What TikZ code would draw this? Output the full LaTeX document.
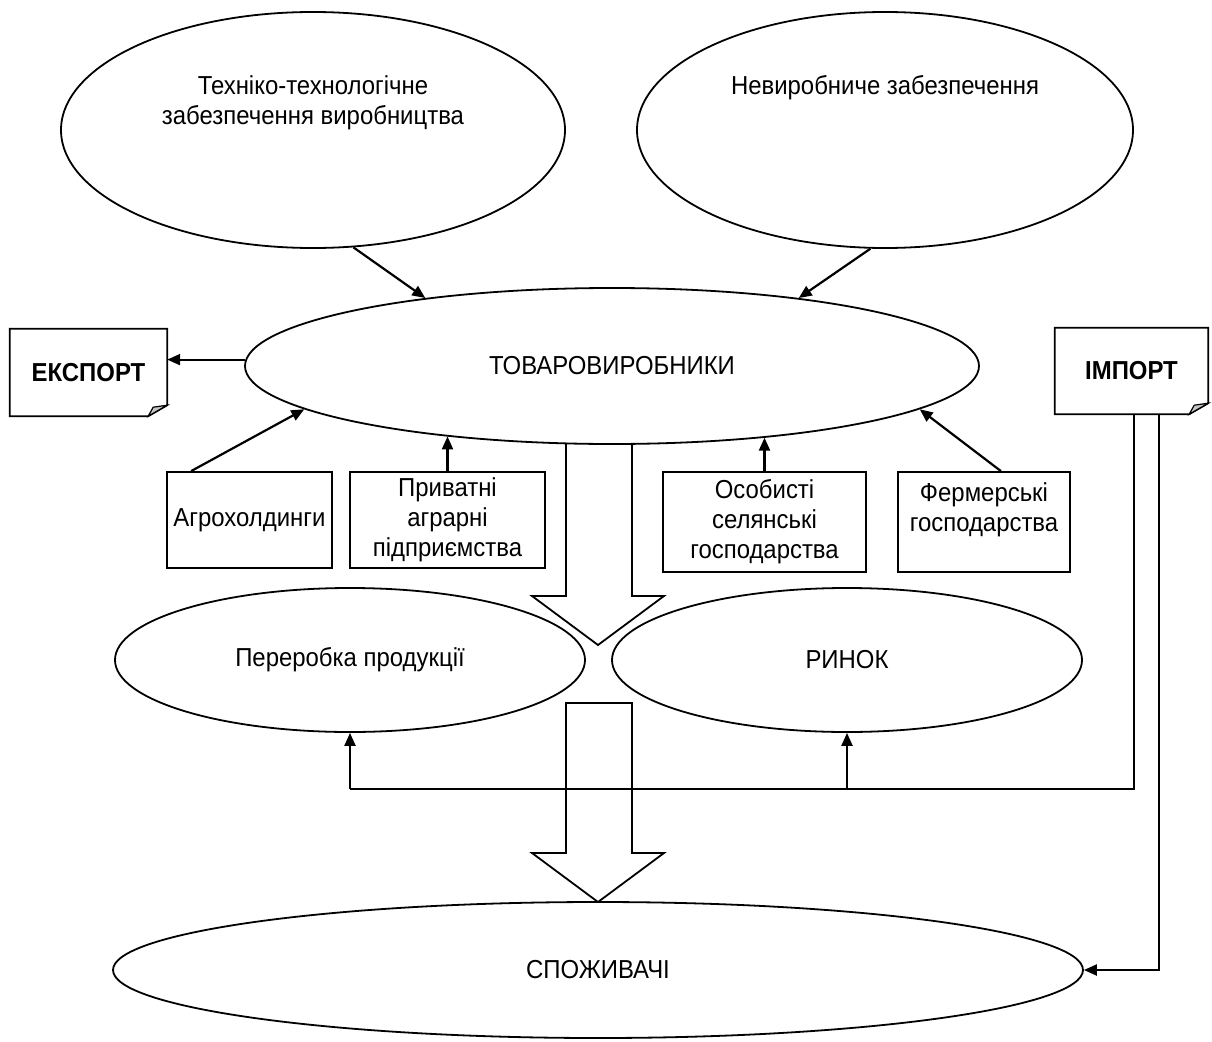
\documentclass[tikz,border=0pt]{standalone}
\usepackage{fontspec}
\setmainfont{Liberation Sans}[FakeStretch=0.92]
\usetikzlibrary{shapes.geometric,arrows.meta}

\tikzset{
	ell/.style={ellipse, draw, line width=1.8pt, fill=white, inner sep=0pt},
	unit/.style={rectangle, draw, line width=1.8pt, fill=white, align=center, inner sep=0pt},
	doc/.style={rectangle, inner sep=0pt, font=\fontsize{26}{30}\selectfont\bfseries},
	conn/.style={line width=2.2pt, -{Triangle[length=13pt,width=11pt]}},
	hollow/.style={draw, line width=1.8pt, fill=white, line join=miter},
}

% sheet with a folded lower right corner
\newcommand{\foldedbox}[1]{%
	\draw[line width=1.8pt] (#1.north west) -- (#1.north east) -- ([yshift=11pt]#1.south east)
		-- ([xshift=-19pt]#1.south east) -- (#1.south west) -- cycle;
	\filldraw[line width=1.2pt, fill=gray!45] ([yshift=11pt]#1.south east) -- ([xshift=-19pt]#1.south east)
		-- ([xshift=-14pt,yshift=9pt]#1.south east) -- cycle;}

\begin{document}
\begin{tikzpicture}[x=1pt, y=-1pt, font=\fontsize{26}{30}\selectfont]
	\useasboundingbox (0,0) rectangle (1212,1041);

	% big hollow arrows
	\foreach \ytop/\ytip in {440/645, 703/902}
		\draw[hollow] (566,\ytop) -- (566,{\ytip-49}) -- (532,{\ytip-49}) -- (598,\ytip)
			-- (664,{\ytip-49}) -- (632,{\ytip-49}) -- (632,\ytop) -- cycle;

	\node[ell, minimum width=504pt, minimum height=236pt,
		label={[yshift=27pt, align=center]center:{Техніко-технологічне\\забезпечення виробництва}}] (tech) at (313,130) {};
	\node[ell, minimum width=496pt, minimum height=236pt,
		label={[yshift=42pt]center:Невиробниче забезпечення}] (serv) at (885,130) {};
	\node[ell, minimum width=734pt, minimum height=156pt] (prod) at (612,366) {ТОВАРОВИРОБНИКИ};
	\node[ell, minimum width=470pt, minimum height=144pt] (proc) at (350,660) {Переробка продукції};
	\node[ell, minimum width=470pt, minimum height=144pt] (mkt) at (847,660) {РИНОК};
	\node[ell, minimum width=970pt, minimum height=136pt] (cons) at (598,970) {СПОЖИВАЧІ};

	\node[unit, minimum width=165pt, minimum height=96pt] (agro) at (249.5,520) {Агрохолдинги};
	\node[unit, minimum width=195pt, minimum height=96pt] (priv) at (447.5,520) {Приватні\\аграрні\\підприємства};
	\node[unit, minimum width=203pt, minimum height=100pt] (pers) at (764.5,522) {Особисті\\селянські\\господарства};
	\node[unit, minimum width=172pt, minimum height=100pt] (ferm) at (984,522) {Фермерські\\господарства\\\mbox{}};

	\node[doc, minimum width=157pt, minimum height=87pt] (exp) at (88.5,372.5) {ЕКСПОРТ};
	\foldedbox{exp}
	\node[doc, minimum width=153pt, minimum height=86pt] (imp) at (1131.5,371) {ІМПОРТ};
	\foldedbox{imp}

	\draw[conn] (tech.-71) -- (prod.160);
	\draw[conn] (serv.-97) -- (prod.20);
	\draw[conn] (prod.179) -- (prod.179 -| exp.east);
	\draw[conn] ([xshift=25pt]agro.north west) -- (prod.188);
	\draw[conn] (priv.north) -- (priv.north |- prod.203);
	\draw[conn] (pers.north) -- (pers.north |- prod.-25);
	\draw[conn] ([xshift=-70pt]ferm.north east) -- (prod.-8);

	% import feeds
	\coordinate (bus) at (1134,789);
	\draw[line width=2.2pt] (bus |- imp.south) -- (bus) -- (bus -| proc.south);
	\foreach \target in {proc, mkt}
		\draw[conn] (bus -| \target.south) -- (\target.south);
	\coordinate (feed) at (1159,970);
	\draw[conn] (feed |- imp.south) -- (feed) -- (cons.east);
\end{tikzpicture}
\end{document}
